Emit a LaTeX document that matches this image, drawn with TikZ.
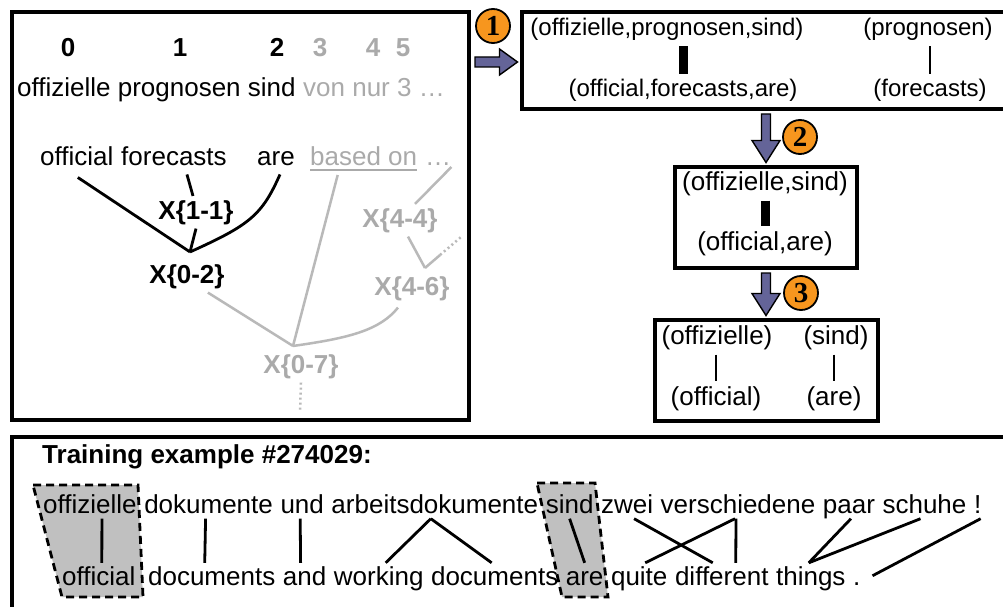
\documentclass[tikz,border=0pt]{standalone}
\usepackage{fontspec}
\setmainfont{Liberation Sans}
\newfontfamily\stepfont{Liberation Serif}
\usetikzlibrary{positioning,calc}

\definecolor{stepfill}{RGB}{247,150,30}
\definecolor{arrowfill}{RGB}{100,100,152}
\definecolor{faded}{RGB}{170,170,170}
\definecolor{fadedline}{RGB}{185,185,185}
\definecolor{shade}{RGB}{192,192,192}

\tikzset{
  txt/.style={inner sep=0pt, font=\fontsize{26}{31}\selectfont},
  btxt/.style={inner sep=0pt, font=\fontsize{26}{31}\selectfont\bfseries},
  hyp/.style={inner sep=4pt, font=\fontsize{26}{31}\selectfont\bfseries},
  tuple/.style={inner xsep=0pt, inner ysep=5pt, font=\fontsize{#1}{30}\selectfont},
  tuple/.default=26,
  panel/.style={draw, line width=4pt, inner sep=0pt, anchor=north west},
  tree/.style={line width=2.8pt},
  fadedtree/.style={draw=fadedline, line width=2.5pt},
  fadeddots/.style={fadedtree, dash pattern=on 2pt off 3pt},
  fatbar/.style={line width=9pt},
  thinbar/.style={line width=2.8pt},
  blockarrow/.style={fill=arrowfill, draw=black, line width=1.4pt, line join=miter},
  stepmark/.style={circle, draw, line width=1.8pt, fill=stepfill, minimum size=34pt,
    inner sep=0pt, font=\stepfont\bfseries\fontsize{29}{29}\selectfont},
  srcword/.style={txt, text depth=0pt, inner ysep=5.5pt},
  tgtword/.style={txt, text height=18.5pt, inner ysep=3.5pt},
  link/.style={line width=2.8pt},
  shadebox/.style={fill=shade, draw=black, line width=2.8pt, dash pattern=on 8pt off 5pt}
}

\begin{document}
\begin{tikzpicture}[x=1pt,y=-1pt]
  \useasboundingbox (0,0) rectangle (1003,607);
  \fill[white] (0,0) rectangle (1003,607);
  \clip (0,0) rectangle (1003,607);

  % 左の枠: 部分仮説
  \node[panel, minimum width=457, minimum height=408] (lattice) at (10,10) {};
  \foreach \i/\x in {0/68,1/180,2/277}
    \node[btxt, anchor=base] (i\i) at (\x,57) {\i};
  \foreach \i/\x in {3/320,4/373,5/403}
    \node[btxt, faded, anchor=base] (i\i) at (\x,57) {\i};
  \node[txt, anchor=base west] (src) at (17,97) {offizielle prognosen sind};
  \node[txt, faded, anchor=base west] (srcrest) at (303,97) {von nur 3 …};

  \node[txt, anchor=base west] (official) at (40,165) {official};
  \node[txt, anchor=base west] (forecasts) at (121,165) {forecasts};
  \node[txt, anchor=base west] (are) at (257,165) {are};
  \node[txt, faded, anchor=base west] (basedon) at (310,165) {based on};
  \node[txt, faded, anchor=base west] (more) at (425,165) {…};
  \draw[faded, line width=2pt] ([yshift=-5]basedon.base west) -- ([yshift=-5]basedon.base east);

  \node[hyp, anchor=base] (X11) at (196,219) {X\{1-1\}};
  \node[hyp, anchor=base] (X02) at (187,283) {X\{0-2\}};
  \node[hyp, faded, anchor=base] (X44) at (400,227) {X\{4-4\}};
  \node[hyp, faded, anchor=base] (X46) at (412,295) {X\{4-6\}};
  \node[hyp, faded, anchor=base] (X07) at (301,373) {X\{0-7\}};

  % 枝の合流点
  \coordinate (j02) at ([xshift=3,yshift=8]X02.north);
  \coordinate (j07) at ([xshift=-8,yshift=4]X07.north);
  \coordinate (j46) at ([xshift=13,yshift=4]X46.north);
  \coordinate (end46) at (461,237);
  \coordinate (end07) at (300,412);

  \draw[tree] ([xshift=1,yshift=-12]official.south) -- (j02);
  \draw[tree] ([xshift=13,yshift=-9]forecasts.south) -- ([xshift=-3]X11.north);
  \draw[tree] (X11.south) -- (j02);
  \draw[tree] ([xshift=4,yshift=-9]are.south) .. controls (262,215) and (250,225) .. (j02);

  \draw[fadedtree] (X02.-38) -- (j07);
  \draw[fadedtree] ([xshift=-26,yshift=-10]basedon.base) -- (j07);
  \draw[fadedtree] ([xshift=-14,yshift=-3]X46.south) .. controls (380,330) and (350,338) .. (j07);
  \draw[fadedtree] ([yshift=-2]more.base east) -- ([xshift=15]X44.north);
  \draw[fadedtree] ([xshift=8]X44.south) -- (j46);
  \draw[fadedtree] (j46) -- ($(j46)!0.42!(end46)$);
  \draw[fadeddots] ($(j46)!0.42!(end46)$) -- (end46);
  \draw[fadeddots] (X07.south) -- (end07);

  % 右の枠: 抽出されたペア
  \node[panel, minimum width=500, minimum height=97] (cand) at (520,10) {};
  \node[tuple=24, anchor=base] (g1) at (667,36) {(offizielle,prognosen,sind)};
  \node[tuple=24, anchor=base] (e1) at (683,97) {(official,forecasts,are)};
  \node[tuple=24, anchor=base] (g1b) at (928,36) {(prognosen)};
  \node[tuple=24, anchor=base] (e1b) at (930,97) {(forecasts)};
  \draw[fatbar] (g1.south -| e1.north) -- (e1.north);
  \draw[thinbar] (g1b.south -| e1b.north) -- (e1b.north);

  \node[panel, minimum width=182, minimum height=101] (pair2) at (673,165) {};
  \node[tuple, anchor=base] (g2) at (765,190) {(offizielle,sind)};
  \node[tuple, anchor=base] (e2) at (765,250) {(official,are)};
  \draw[fatbar] (g2.south -| e2.north) -- (e2.north);

  \node[panel, minimum width=223, minimum height=101] (pair3) at (653,318) {};
  \node[tuple, anchor=base] (g3a) at (717,344) {(offizielle)};
  \node[tuple, anchor=base] (e3a) at (716,405) {(official)};
  \node[tuple, anchor=base] (g3b) at (836,344) {(sind)};
  \node[tuple, anchor=base] (e3b) at (834,405) {(are)};
  \draw[thinbar] (g3a.south -| e3a.north) -- (e3a.north);
  \draw[thinbar] (g3b.south -| e3b.north) -- (e3b.north);

  % 太い矢印と番号
  \coordinate (a1s) at (lattice.north east |- 0,62);
  \coordinate (a1e) at ($(cand.north west |- 0,62)+(-2.5,0)$);
  \draw[blockarrow] ([xshift=4,yshift=5]a1s) -- ([xshift=-18,yshift=5]a1e)
    -- ([xshift=-18,yshift=13]a1e) -- (a1e) -- ([xshift=-18,yshift=-13]a1e)
    -- ([xshift=-18,yshift=-5]a1e) -- ([xshift=4,yshift=-5]a1s) -- cycle;
  \coordinate (a2s) at ($(pair2.north |- cand.south)+(0,3)$);
  \coordinate (a2e) at ($(pair2.north)+(0,-2.5)$);
  \draw[blockarrow] ([xshift=-4.5]a2s) -- ([xshift=-4.5,yshift=22]a2e)
    -- ([xshift=-14,yshift=22]a2e) -- (a2e) -- ([xshift=14,yshift=22]a2e)
    -- ([xshift=4.5,yshift=22]a2e) -- ([xshift=4.5]a2s) -- cycle;
  \coordinate (a3s) at ($(pair2.south)+(0,3)$);
  \coordinate (a3e) at ($(pair3.north -| pair2.south)+(0,-2.5)$);
  \draw[blockarrow] ([xshift=-4.5]a3s) -- ([xshift=-4.5,yshift=22]a3e)
    -- ([xshift=-14,yshift=22]a3e) -- (a3e) -- ([xshift=14,yshift=22]a3e)
    -- ([xshift=4.5,yshift=22]a3e) -- ([xshift=4.5]a3s) -- cycle;
  \node[stepmark] (step1) at (493,26) {1};
  \node[stepmark] (step2) at (800,137) {2};
  \node[stepmark] (step3) at (801,293) {3};

  % 下の枠: 学習例
  \node[panel, minimum width=1010, minimum height=200] (train) at (10,435) {};
  \node[btxt, anchor=base west] (title) at (42,463) {Training example \#274029:};
  \filldraw[shadebox] (33,485) -- (138,485) -- (143,597) -- (62,597) -- cycle;
  \filldraw[shadebox] (537,483) -- (595,483) -- (608,597) -- (562,597) -- cycle;

  \node[srcword, anchor=base west] (s1) at (43,513) {offizielle};
  \foreach \w [count=\i from 2, evaluate=\i as \j using int(\i-1)] in
      {dokumente,und,arbeitsdokumente,sind,zwei,verschiedene,paar,schuhe,!}
    \node[srcword, base right=7.2pt of s\j] (s\i) {\w};
  \node[tgtword, anchor=base west] (t1) at (62,585) {official};
  \node[tgtword, base right=12.3pt of t1] (t2) {documents};
  \foreach \w [count=\i from 3, evaluate=\i as \j using int(\i-1)] in
      {and,working,documents,are,quite,different,things,.}
    \node[tgtword, base right=7.2pt of t\j] (t\i) {\w};

  \foreach \a/\sa/\b/\tb in {1/12/1/3, 2/-3/2/-7, 3/-2/3/-4, 4/-4/4/7, 4/-4/5/-3,
      5/0/6/0, 6/7/8/-9, 7/-3/7/6, 7/-2/8/14, 8/2/9/-2, 9/-4/9/-2}
    \draw[link] ([xshift=\sa]s\a.south) -- ([xshift=\tb]t\b.north);
  \draw[link] ([xshift=3]s10.south) -- ([xshift=12]t10.east);
\end{tikzpicture}
\end{document}
